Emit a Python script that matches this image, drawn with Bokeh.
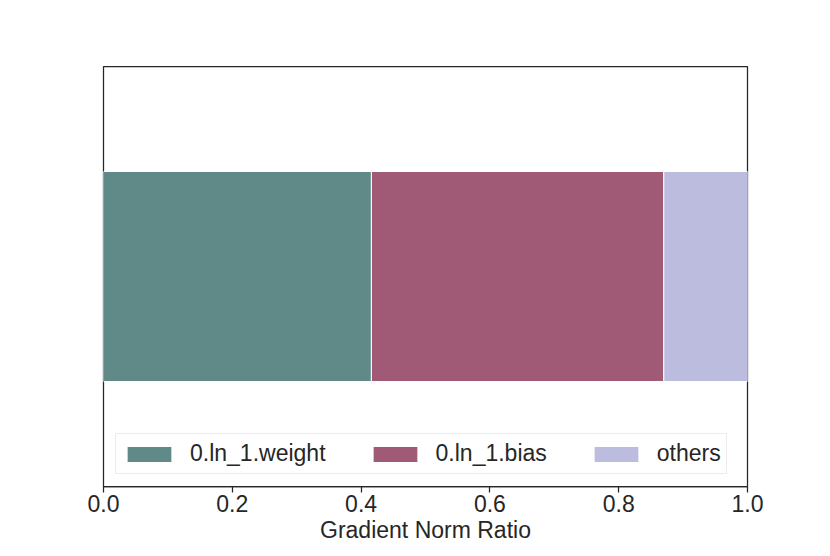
from bokeh.plotting import figure
from bokeh.models import ColumnDataSource, FixedTicker, Legend, LegendItem, Range1d
from bokeh.embed import file_html
from bokeh.resources import INLINE

# Data
categories = ["0.ln_1.weight", "0.ln_1.bias", "others"]
ratios = [0.416, 0.454, 0.130]
colors = ["#5F8A88", "#A05A76", "#BCBCDE"]
tick_values = [0.0, 0.2, 0.4, 0.6, 0.8, 1.0]
tick_labels = ["0.0", "0.2", "0.4", "0.6", "0.8", "1.0"]

FONT = "Liberation Sans"

p = figure(width=814, height=548, output_backend="svg", toolbar_location=None,
           x_range=Range1d(0, 1), y_range=Range1d(-0.5, 0.5),
           min_border_left=103, min_border_right=67, min_border_top=66, min_border_bottom=62)

lefts = []
acc = 0.0
for r in ratios:
    lefts.append(acc)
    acc += r
rights = [l + r for l, r in zip(lefts, ratios)]

items = []
for i, name in enumerate(categories):
    src = ColumnDataSource(dict(y=[0], left=[lefts[i]], right=[rights[i]]))
    rnd = p.hbar(y="y", left="left", right="right", height=0.5, source=src,
                 fill_color=colors[i], line_color="white", line_width=1)
    items.append(LegendItem(label=name, renderers=[rnd]))

legend = Legend(items=items, orientation="horizontal", location=(12, 12),
                label_text_font=FONT, label_text_font_size="23px", label_text_color="#262626",
                glyph_width=56, glyph_height=20, label_standoff=13, spacing=41,
                label_height=29, padding=5, margin=0,
                border_line_color="#d9d9d9", border_line_width=1,
                background_fill_alpha=0.8)
p.add_layout(legend, "center")

p.grid.visible = False
p.yaxis.visible = False
p.outline_line_color = "#262626"
p.outline_line_width = 1.25

ax = p.xaxis[0]
ax.ticker = FixedTicker(ticks=tick_values)
ax.major_label_overrides = {v: l for v, l in zip(tick_values, tick_labels)}
ax.minor_tick_line_color = None
ax.major_tick_in = 0
ax.major_tick_out = 6
ax.major_tick_line_color = "#262626"
ax.major_tick_line_width = 1.25
ax.axis_line_color = "#262626"
ax.axis_line_width = 1.25
ax.major_label_text_font = FONT
ax.major_label_text_font_size = "23px"
ax.major_label_text_color = "#262626"
ax.major_label_standoff = 2
ax.axis_label = "Gradient Norm Ratio"
ax.axis_label_text_font = FONT
ax.axis_label_text_font_size = "23px"
ax.axis_label_text_font_style = "normal"
ax.axis_label_text_color = "#262626"
ax.axis_label_standoff = 2

open("out.html", "w").write(file_html(p, INLINE))
